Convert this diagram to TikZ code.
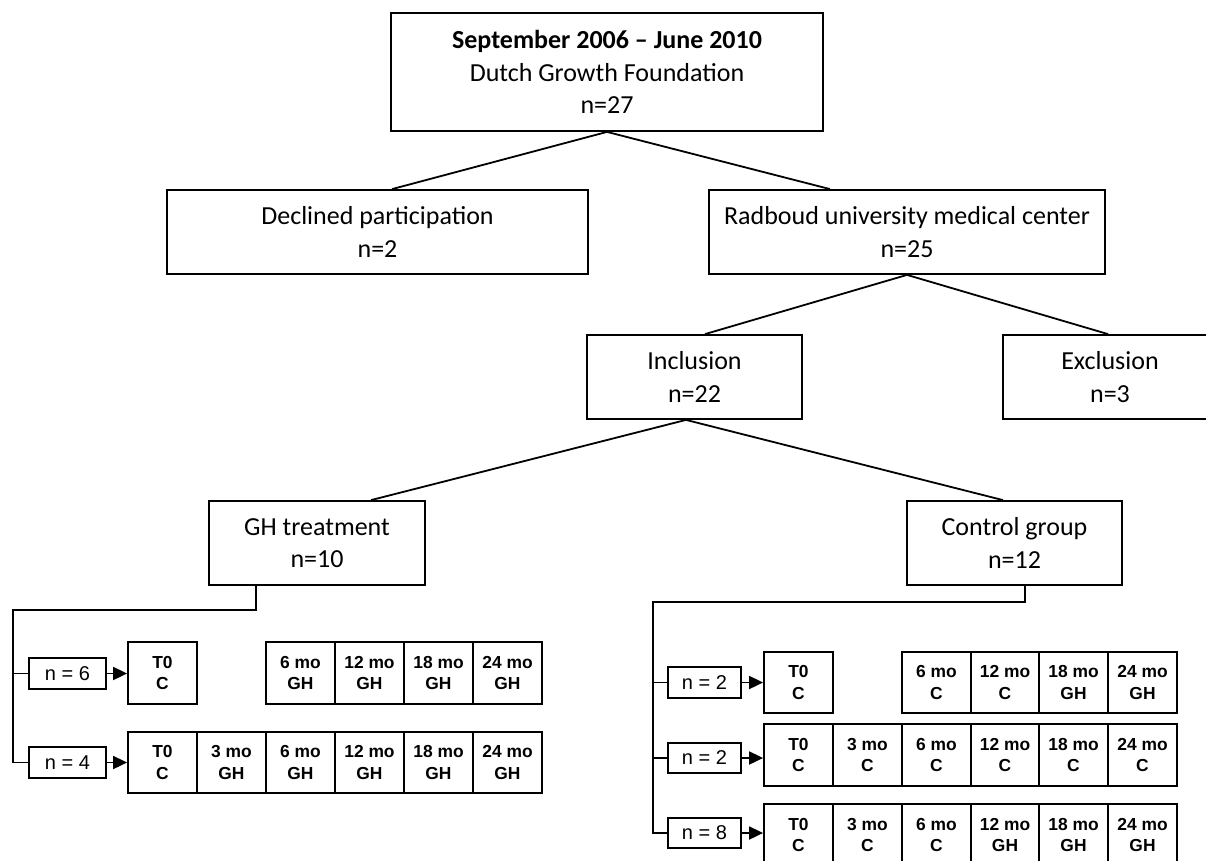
\documentclass[tikz,border=0pt]{standalone}
\usepackage{fontspec}
\setmainfont{Carlito}
\newfontfamily\arialfont{Liberation Sans}
\usetikzlibrary{arrows.meta}
\newcommand\bx[7]{%
  \pgfmathsetmacro\bxw{#4-#2}\pgfmathsetmacro\bxh{#5-#3}%
  \node[#6, minimum width=\bxw pt, minimum height=\bxh pt] (#1) at ({(#2+#4)/2},{(#3+#5)/2}) {#7};}
\begin{document}
\begin{tikzpicture}[x=1pt,y=-1pt,
  box/.style={draw, line width=1.8pt, inner sep=0pt, align=center, font=\fontsize{26}{32.5}\selectfont},
  cell/.style={draw, line width=1.8pt, inner sep=0pt, align=center, font=\arialfont\bfseries\fontsize{17.4}{21.5}\selectfont},
  nbox/.style={draw, line width=1.8pt, inner sep=0pt, align=center, font=\arialfont\fontsize{20}{24}\selectfont},
  conn/.style={line width=1.8pt},
  arr/.style={line width=1.8pt, -{Triangle[length=14pt,width=13pt]}}
]
\useasboundingbox (0,0) rectangle (1206,860);
\fill[white] (0,0) rectangle (1206,860);
% main boxes
\bx{top}{391}{13}{823}{131}{box}{\textbf{September 2006 – June 2010}\\Dutch Growth Foundation\\n=27}
\bx{decl}{167}{190}{588}{274}{box}{Declined participation\\n=2}
\bx{rad}{709}{190}{1105}{274}{box}{Radboud university medical center\\n=25}
\bx{incl}{587}{335}{802}{419}{box}{Inclusion\\n=22}
\bx{excl}{1003}{335}{1217}{419}{box}{Exclusion\\n=3}
\bx{gh}{209}{501}{425}{585}{box}{GH treatment\\n=10}
\bx{ctrl}{907}{501}{1122}{585}{box}{Control group\\n=12}
% tree connectors
\draw[conn] (top.south) -- ([xshift=14.5pt]decl.north);
\draw[conn] (top.south) -- ([xshift=-77pt]rad.north);
\draw[conn] (rad.south) -- ([xshift=10.5pt]incl.north);
\draw[conn] (rad.south) -- ([xshift=-2pt]excl.north);
\draw[conn] ([xshift=-8.5pt]incl.south) -- ([xshift=54pt]gh.north);
\draw[conn] ([xshift=-8.5pt]incl.south) -- ([xshift=-11.5pt]ctrl.north);
% GH treatment rows
\bx{nA}{29}{658}{106}{689}{nbox}{n = 6}
\bx{aT}{128}{642}{197}{704}{cell}{T0\\C}
\bx{a6}{266}{642}{335}{704}{cell}{6 mo\\GH}
\bx{a12}{335}{642}{404}{704}{cell}{12 mo\\GH}
\bx{a18}{404}{642}{473}{704}{cell}{18 mo\\GH}
\bx{a24}{473}{642}{542}{704}{cell}{24 mo\\GH}
\bx{nB}{29}{747}{106}{778}{nbox}{n = 4}
\bx{bT}{128}{732}{197}{793}{cell}{T0\\C}
\bx{b3}{197}{732}{266}{793}{cell}{3 mo\\GH}
\bx{b6}{266}{732}{335}{793}{cell}{6 mo\\GH}
\bx{b12}{335}{732}{404}{793}{cell}{12 mo\\GH}
\bx{b18}{404}{732}{473}{793}{cell}{18 mo\\GH}
\bx{b24}{473}{732}{542}{793}{cell}{24 mo\\GH}
\coordinate (ghs) at ([xshift=-61pt]gh.south);
\coordinate (lv) at (13,610);
\draw[conn] (ghs) |- (lv) |- (nB.west);
\draw[conn] (lv |- nA.west) -- (nA.west);
\draw[arr] (nA.east) -- (nA.east -| aT.west);
\draw[arr] (nB.east) -- (nB.east -| bT.west);
% Control group rows
\bx{nC}{668}{667}{741}{698}{nbox}{n = 2}
\bx{cT}{764}{652}{833}{713}{cell}{T0\\C}
\bx{c6}{902}{652}{971}{713}{cell}{6 mo\\C}
\bx{c12}{971}{652}{1039}{713}{cell}{12 mo\\C}
\bx{c18}{1039}{652}{1108}{713}{cell}{18 mo\\GH}
\bx{c24}{1108}{652}{1177}{713}{cell}{24 mo\\GH}
\bx{nD}{668}{743}{741}{773}{nbox}{n = 2}
\bx{dT}{764}{724}{833}{786}{cell}{T0\\C}
\bx{d3}{833}{724}{902}{786}{cell}{3 mo\\C}
\bx{d6}{902}{724}{971}{786}{cell}{6 mo\\C}
\bx{d12}{971}{724}{1039}{786}{cell}{12 mo\\C}
\bx{d18}{1039}{724}{1108}{786}{cell}{18 mo\\C}
\bx{d24}{1108}{724}{1177}{786}{cell}{24 mo\\C}
\bx{nE}{668}{818}{741}{848}{nbox}{n = 8}
\bx{eT}{764}{804}{833}{866}{cell}{T0\\C}
\bx{e3}{833}{804}{902}{866}{cell}{3 mo\\C}
\bx{e6}{902}{804}{971}{866}{cell}{6 mo\\C}
\bx{e12}{971}{804}{1039}{866}{cell}{12 mo\\GH}
\bx{e18}{1039}{804}{1108}{866}{cell}{18 mo\\GH}
\bx{e24}{1108}{804}{1177}{866}{cell}{24 mo\\GH}
\coordinate (cts) at ([xshift=10.5pt]ctrl.south);
\coordinate (rv) at (653,602);
\draw[conn] (cts) |- (rv) |- (nE.west);
\draw[conn] (rv |- nC.west) -- (nC.west);
\draw[conn] (rv |- nD.west) -- (nD.west);
\draw[arr] (nC.east) -- (nC.east -| cT.west);
\draw[arr] (nD.east) -- (nD.east -| dT.west);
\draw[arr] (nE.east) -- (nE.east -| eT.west);
\end{tikzpicture}
\end{document}
